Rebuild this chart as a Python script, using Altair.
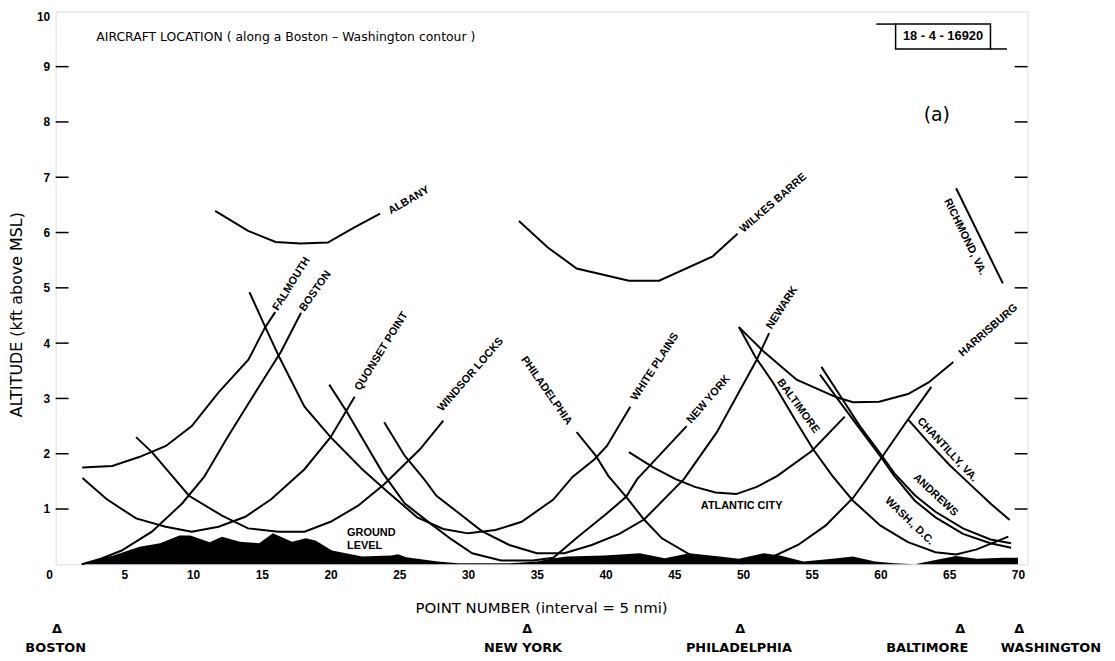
import altair as alt
import pandas as pd

# ---------------- data ----------------
falmouth_x = [1.93, 4.12, 6.07, 8.02, 9.90, 11.85, 14.02, 15.25, 15.97]
falmouth_y = [1.75, 1.78, 1.94, 2.14, 2.50, 3.11, 3.70, 4.29, 4.56]

boston_x = [1.9, 3.3, 4.8, 7.0, 9.2, 10.8, 12.5, 14.5, 16.4, 17.85]
boston_y = [0.0, 0.1, 0.25, 0.59, 1.1, 1.58, 2.3, 3.1, 3.85, 4.55]

quonset_x = [1.95, 3.7, 5.85, 8.0, 9.9, 11.85, 13.8, 15.7, 18.1, 20.0, 21.75]
quonset_y = [1.56, 1.18, 0.83, 0.68, 0.59, 0.68, 0.86, 1.18, 1.72, 2.3, 3.03]

windsor_x = [5.85, 7.0, 9.7, 12.1, 14.0, 16.2, 18.1, 20.0, 22.0, 23.9, 26.5, 28.2]
windsor_y = [2.3, 2.03, 1.24, 0.88, 0.65, 0.59, 0.59, 0.77, 1.06, 1.45, 2.08, 2.6]

albany_x = [11.6, 14.0, 16.0, 17.8, 19.8, 21.7, 23.6]
albany_y = [6.39, 6.03, 5.83, 5.80, 5.82, 6.09, 6.34]

whiteplains_x = [14.1, 15.25, 16.3, 18.1, 20.0, 22.3, 24.2, 26.3, 28.2, 30.0, 32.0, 33.9, 36.2, 37.6, 39.2, 40.1, 41.8]
whiteplains_y = [4.92, 4.29, 3.73, 2.85, 2.3, 1.72, 1.3, 0.85, 0.64, 0.56, 0.62, 0.77, 1.17, 1.58, 1.9, 2.14, 2.85]

newyork_x = [19.9, 21.2, 22.5, 23.8, 25.4, 27.2, 28.8, 30.3, 32.4, 34.7, 36.2, 38.0, 40.0, 41.5, 42.3, 43.2, 45.9]
newyork_y = [3.25, 2.75, 2.2, 1.65, 1.1, 0.75, 0.45, 0.2, 0.07, 0.07, 0.12, 0.5, 0.9, 1.22, 1.54, 1.78, 2.5]

newark_x = [23.9, 25.4, 26.8, 27.7, 29.2, 31.0, 33.0, 35.0, 37.0, 39.0, 41.0, 42.8, 45.7, 48.1, 51.0, 51.9]
newark_y = [2.57, 1.96, 1.54, 1.24, 0.95, 0.6, 0.35, 0.2, 0.2, 0.35, 0.55, 0.81, 1.54, 2.39, 3.7, 4.18]

philly_x = [37.9, 39.3, 40.2, 41.5, 42.8, 44.1, 46.1, 48.0, 50.0, 52.0, 54.0, 56.0, 58.0, 59.0, 60.0, 62.0, 63.7]
philly_y = [2.39, 1.96, 1.6, 1.22, 0.81, 0.47, 0.18, 0.05, 0.02, 0.12, 0.35, 0.7, 1.2, 1.54, 1.9, 2.62, 3.21]

wilkes_x = [33.7, 35.8, 37.9, 41.7, 43.9, 47.8, 49.6]
wilkes_y = [6.21, 5.73, 5.35, 5.13, 5.13, 5.57, 5.98]

atlantic_x = [41.7, 43.5, 45.1, 46.5, 48.0, 49.5, 51.0, 52.5, 55.0, 57.4]
atlantic_y = [2.03, 1.75, 1.54, 1.4, 1.3, 1.27, 1.4, 1.6, 2.05, 2.67]

harris_x = [49.7, 51.5, 53.9, 56.8, 58.0, 59.9, 62.0, 63.5, 65.3]
harris_y = [4.29, 3.85, 3.34, 3.02, 2.93, 2.94, 3.08, 3.29, 3.66]

balt_x = [49.7, 50.9, 52.2, 53.9, 55.1, 56.5, 58.0, 60.0, 62.0, 64.0, 65.5, 67.0, 69.3]
balt_y = [4.29, 3.75, 3.28, 2.57, 2.08, 1.6, 1.15, 0.7, 0.4, 0.22, 0.18, 0.27, 0.5]

andrews_x = [55.7, 57.2, 58.5, 60.0, 61.0, 62.5, 64.0, 66.0, 68.0, 69.5]
andrews_y = [3.57, 3.0, 2.5, 2.0, 1.65, 1.25, 0.95, 0.65, 0.45, 0.38]

washdc_x = [55.6, 57.0, 58.5, 60.0, 61.0, 62.5, 64.0, 66.0, 68.0, 69.5]
washdc_y = [3.43, 2.95, 2.45, 1.95, 1.6, 1.15, 0.85, 0.55, 0.38, 0.3]

chantilly_x = [62.0, 63.5, 65.0, 66.5, 68.0, 69.4]
chantilly_y = [2.62, 2.2, 1.8, 1.45, 1.1, 0.8]

richmond_x = [65.5, 68.9]
richmond_y = [6.80, 5.08]

ground_x = [1.8, 2.5, 4.2, 6.1, 7.6, 9.0, 9.8, 11.2, 12.1, 13.4, 14.8, 15.8, 17.2, 18.2, 18.9,
            20.1, 21.1, 22.3, 24.4, 24.9, 25.5, 27.8, 29.3, 31.0, 33.0, 35.0, 36.0, 37.2, 39.9,
            42.5, 44.3, 46.1, 48.3, 49.7, 51.5, 52.7, 54.4, 56.5, 58.0, 59.6, 61.0, 62.5, 64.0,
            65.5, 67.0, 69.0, 70.0]
ground_y = [0.0, 0.05, 0.16, 0.32, 0.38, 0.52, 0.52, 0.4, 0.5, 0.41, 0.38, 0.56, 0.41, 0.47, 0.43,
            0.25, 0.2, 0.14, 0.16, 0.18, 0.13, 0.05, 0.02, 0.02, 0.02, 0.05, 0.1, 0.14, 0.16,
            0.2, 0.11, 0.2, 0.14, 0.1, 0.2, 0.16, 0.05, 0.1, 0.14, 0.05, 0.02, 0.0, 0.08,
            0.15, 0.1, 0.12, 0.12]

# curve labels: text, centre x, centre y, angle (deg, clockwise)
label_text = ["FALMOUTH", "BOSTON", "QUONSET POINT", "WINDSOR LOCKS", "ALBANY", "WILKES BARRE",
              "RICHMOND, VA.", "HARRISBURG", "NEWARK", "BALTIMORE", "PHILADELPHIA", "WHITE PLAINS",
              "NEW YORK", "CHANTILLY, VA.", "ANDREWS", "WASH., D.C.", "ATLANTIC CITY"]
label_x = [17.16, 18.9, 23.7, 30.2, 25.7, 52.2, 66.15, 67.85, 52.85, 54.0, 35.7, 43.6, 47.5, 64.85, 64.0, 62.1, 49.9]
label_y = [5.07, 4.94, 3.85, 3.43, 6.58, 6.53, 5.92, 4.23, 4.64, 2.86, 3.14, 3.57, 2.98, 2.07, 1.25, 0.78, 1.06]
label_angle = [302, 305, 302, 311, 330, 319, 64, 319, 303, 54, 55, 303, 311, 47, 43, 44, 0]

ground_label = ["GROUND", "LEVEL"]
ground_label_x = [21.2, 21.2]
ground_label_y = [0.56, 0.34]

city_names = ["BOSTON", "NEW YORK", "PHILADELPHIA", "BALTIMORE", "WASHINGTON"]
city_tri_x = [0.1, 34.3, 49.8, 65.8, 70.1]
city_text_x = [0.0, 34.0, 49.7, 63.4, 72.4]
city_tri_y = -1.17
city_text_y = -1.52

tick_vals = [1, 2, 3, 4, 5, 6, 7, 8, 9]

# ---------------- build tables ----------------
series = {
    "Falmouth": (falmouth_x, falmouth_y), "Boston": (boston_x, boston_y),
    "Quonset": (quonset_x, quonset_y), "Windsor": (windsor_x, windsor_y),
    "Albany": (albany_x, albany_y), "WhitePlains": (whiteplains_x, whiteplains_y),
    "NewYork": (newyork_x, newyork_y), "Newark": (newark_x, newark_y),
    "Philadelphia": (philly_x, philly_y), "Wilkes": (wilkes_x, wilkes_y),
    "Atlantic": (atlantic_x, atlantic_y), "Harrisburg": (harris_x, harris_y),
    "Baltimore": (balt_x, balt_y), "Andrews": (andrews_x, andrews_y),
    "WashDC": (washdc_x, washdc_y), "Chantilly": (chantilly_x, chantilly_y),
    "Richmond": (richmond_x, richmond_y),
}
rows = []
for name, (xs_, ys_) in series.items():
    for i, (a, b) in enumerate(zip(xs_, ys_)):
        rows.append({"site": name, "i": i, "x": a, "y": b})
curves = pd.DataFrame(rows)
ground = pd.DataFrame({"x": ground_x, "y": ground_y})
labels = pd.DataFrame({"t": label_text, "x": label_x, "y": label_y, "a": label_angle})
glabels = pd.DataFrame({"t": ground_label, "x": ground_label_x, "y": ground_label_y})
cities = pd.DataFrame({"t": city_names, "tx": city_text_x, "px": city_tri_x,
                       "ty": [city_text_y] * 5, "py": [city_tri_y] * 5, "tri": ["\u0394"] * 5})
ticks = pd.DataFrame({"v": tick_vals})
info = pd.DataFrame({"t": ["AIRCRAFT LOCATION  ( along a Boston \u2013 Washington contour )"],
                     "x": [2.96], "y": [9.53]})
tag = pd.DataFrame({"t": ["18 - 4 - 16920"], "x": [64.55], "y": [9.545],
                    "x0": [61.1], "x1": [68.0], "y0": [9.32], "y1": [9.77]})
tag_lines = pd.DataFrame({"x0": [59.7, 68.0], "x1": [61.1, 69.2], "y": [9.77, 9.32]})
panel = pd.DataFrame({"t": ["(a)"], "x": [64.1], "y": [8.13]})

W, H = 979, 557
FONT = "Liberation Sans"
WIDE = "DejaVu Sans"
xs = alt.Scale(domain=[0, 70.7], nice=False, zero=False)
ys = alt.Scale(domain=[0, 10], nice=False, zero=False)

xaxis = alt.Axis(values=list(range(0, 71, 5)), title="POINT NUMBER  (interval = 5 nmi)",
                 ticks=False, domain=False, grid=False, labelFont=FONT, labelFontWeight="bold",
                 labelFontSize=12, labelPadding=5, labelColor="black",
                 labelOffset=alt.expr("datum.value == 0 ? -10 : 0"),
                 titleFont=WIDE, titleFontWeight="normal", titleFontSize=15, titleColor="black",
                 titleX=489, titleY=44, titleBaseline="middle")
yaxis = alt.Axis(values=list(range(1, 11)), title="ALTITUDE  (kft above MSL)",
                 ticks=False, domain=False, grid=False, labelFont=FONT, labelFontWeight="bold",
                 labelFontSize=12, labelPadding=6, labelColor="black", labelFlush=True,
                 titleFont=WIDE, titleFontWeight="normal", titleFontSize=16, titleColor="black",
                 titleAngle=270, titleX=-39, titleY=305, titleAlign="center", titleBaseline="middle")

lines = alt.Chart(curves).mark_line(color="black", strokeWidth=2).encode(
    x=alt.X("x:Q", scale=xs, axis=xaxis),
    y=alt.Y("y:Q", scale=ys, axis=yaxis),
    detail="site:N",
    order="i:Q",
)

ground_area = alt.Chart(ground).mark_area(color="black", opacity=1).encode(
    x=alt.X("x:Q", scale=xs), y=alt.Y("y:Q", scale=ys))

curve_labels = alt.Chart(labels).mark_text(font=FONT, fontWeight="bold", fontSize=11,
                                           color="black", align="center", baseline="middle").encode(
    x=alt.X("x:Q", scale=xs), y=alt.Y("y:Q", scale=ys), text="t:N",
    angle=alt.Angle("a:Q", scale=None))

ground_text = alt.Chart(glabels).mark_text(font=FONT, fontWeight="bold", fontSize=11,
                                           color="black", align="left", baseline="middle").encode(
    x=alt.X("x:Q", scale=xs), y=alt.Y("y:Q", scale=ys), text="t:N")

city_tri = alt.Chart(cities).mark_text(font=WIDE, fontWeight="bold", fontSize=13,
                                       color="black", align="center", baseline="middle").encode(
    x=alt.X("px:Q", scale=xs), y=alt.Y("py:Q", scale=ys), text="tri:N")
city_txt = alt.Chart(cities).mark_text(font=WIDE, fontWeight="bold", fontSize=13,
                                       color="black", align="center", baseline="middle").encode(
    x=alt.X("tx:Q", scale=xs), y=alt.Y("ty:Q", scale=ys), text="t:N")

lticks = alt.Chart(ticks).mark_rule(color="black", strokeWidth=1.5).encode(
    y=alt.Y("v:Q", scale=ys), x=alt.value(0), x2=alt.value(13))
rticks = alt.Chart(ticks).mark_rule(color="black", strokeWidth=1.5).encode(
    y=alt.Y("v:Q", scale=ys), x=alt.value(W), x2=alt.value(W - 13))

title_txt = alt.Chart(info).mark_text(font=WIDE, fontSize=12.5, color="black",
                                      align="left", baseline="middle").encode(
    x=alt.X("x:Q", scale=xs), y=alt.Y("y:Q", scale=ys), text="t:N")

tag_box = alt.Chart(tag).mark_rect(fill=None, stroke="black", strokeWidth=1.5).encode(
    x=alt.X("x0:Q", scale=xs), x2="x1:Q", y=alt.Y("y0:Q", scale=ys), y2="y1:Q")
tag_rules = alt.Chart(tag_lines).mark_rule(color="black", strokeWidth=1.5).encode(
    x=alt.X("x0:Q", scale=xs), x2="x1:Q", y=alt.Y("y:Q", scale=ys))
tag_txt = alt.Chart(tag).mark_text(font=FONT, fontWeight="bold", fontSize=13, color="black",
                                   align="center", baseline="middle").encode(
    x=alt.X("x:Q", scale=xs), y=alt.Y("y:Q", scale=ys), text="t:N")
panel_txt = alt.Chart(panel).mark_text(font=WIDE, fontSize=19, color="black",
                                       align="center", baseline="middle").encode(
    x=alt.X("x:Q", scale=xs), y=alt.Y("y:Q", scale=ys), text="t:N")

chart = alt.layer(
    ground_area, lines, curve_labels, ground_text, city_tri, city_txt,
    lticks, rticks, title_txt, tag_box, tag_rules, tag_txt, panel_txt,
).properties(
    width=W, height=H,
    autosize=alt.AutoSizeParams(type="none"),
    padding={"left": 48, "top": 1, "right": 80, "bottom": 94},
).configure_view(stroke="black", strokeWidth=1.5).configure(background="white")

chart.save("out.html", embed_options={"renderer": "svg", "actions": False})
